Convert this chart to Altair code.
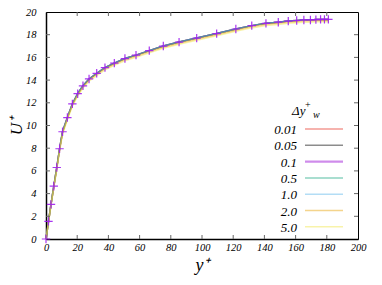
import altair as alt
import pandas as pd

# y+ positions of grid points
yplus = [0, 1.6, 3.2, 5.0, 6.9, 8.7, 10.6, 13.7, 16.9, 20.3, 23.7, 27.6, 32.5, 37.8,
         43.8, 50.6, 57.7, 66.2, 75.2, 85.3, 96.6, 109.4, 121.7, 131.9, 141.0, 148.9,
         155.3, 160.7, 165.3, 169.5, 173.0, 176.0, 178.5, 181.0]
# U+ for dy_w = 0.01 .. 1.0 (curves coincide)
u_base = [0, 1.55, 3.05, 4.65, 6.3, 7.95, 9.45, 10.7, 11.9, 12.8, 13.5, 14.1, 14.6, 15.1,
          15.5, 15.9, 16.2, 16.6, 17.0, 17.35, 17.7, 18.1, 18.5, 18.8, 19.0, 19.1,
          19.2, 19.25, 19.3, 19.3, 19.33, 19.35, 19.35, 19.35]
u_dy2 = [0, 1.5, 3.0, 4.6, 6.2, 7.85, 9.35, 10.6, 11.8, 12.7, 13.4, 14.0, 14.5, 15.0,
         15.4, 15.8, 16.1, 16.5, 16.9, 17.25, 17.6, 18.0, 18.4, 18.7, 18.9, 19.0,
         19.1, 19.15, 19.2, 19.2, 19.23, 19.25, 19.25, 19.25]
u_dy5 = [0, 1.45, 2.95, 4.5, 6.1, 7.75, 9.2, 10.5, 11.7, 12.6, 13.3, 13.9, 14.4, 14.9,
         15.3, 15.7, 16.0, 16.4, 16.8, 17.15, 17.5, 17.9, 18.3, 18.6, 18.8, 18.9,
         19.0, 19.05, 19.1, 19.1, 19.13, 19.15, 19.15, 19.15]

series = ["0.01", "0.05", "0.1", "0.5", "1.0", "2.0", "5.0"]
colors = ["#e51e10", "#000000", "#9400d3", "#009e73", "#56b4e9", "#e69f00", "#f0e442"]
widths = [1.5, 1.5, 2.2, 1.5, 1.5, 1.5, 1.5]
series_u = [u_base, u_base, u_base, u_base, u_base, u_dy2, u_dy5]

x_ticks = [20, 40, 60, 80, 100, 120, 140, 160, 180]
y_ticks = [2, 4, 6, 8, 10, 12, 14, 16, 18]
x_labels = [0, 20, 40, 60, 80, 100, 120, 140, 160, 180, 200]
y_labels = [0, 2, 4, 6, 8, 10, 12, 14, 16, 18, 20]

rows = []
for s, u in zip(series, series_u):
    for yp, up in zip(yplus, u):
        rows.append({"series": s, "y": yp, "u": up})
df = pd.DataFrame(rows)
df_pts = pd.DataFrame({"y": yplus, "u": u_base})

W, H = 312, 227
TOP = 4
FONT = "Liberation Serif"
xs = alt.Scale(domain=[0, 200], nice=False)
ys = alt.Scale(domain=[0, 20], nice=False)

xaxis = alt.Axis(values=x_labels, grid=False, tickSize=0, labelPadding=3,
                 labelFont=FONT, labelFontStyle="italic", labelFontSize=10.5,
                 labelColor="#000", domainColor="#000", domainWidth=1.5,
                 title="y⁺", titleFont=FONT, titleFontStyle="italic",
                 titleFontWeight="normal", titleFontSize=18, titleColor="#000",
                 titlePadding=4, labelFlush=False, labelOverlap=False)
yaxis = alt.Axis(values=y_labels, grid=False, tickSize=0, labelPadding=10,
                 labelFont=FONT, labelFontStyle="italic", labelFontSize=10.5,
                 labelColor="#000", domainColor="#000", domainWidth=1.5,
                 title="U⁺", titleFont=FONT, titleFontStyle="italic",
                 titleFontWeight="normal", titleFontSize=17, titleColor="#000",
                 titlePadding=0, labelFlush=False, labelOverlap=False)

X = lambda f: alt.X(f, scale=xs, axis=xaxis)
Y = lambda f: alt.Y(f, scale=ys, axis=yaxis)

color = alt.Color("series:N", scale=alt.Scale(domain=series, range=colors), legend=None)

lines = alt.Chart(df).mark_line(opacity=0.45, strokeWidth=1.5).encode(
    x=X("y:Q"), y=Y("u:Q"), color=color, detail="series:N", order=alt.Order("y:Q"),
)

pts = alt.Chart(df_pts).mark_point(
    shape="M-1,0H1M0,-1V1", size=70, filled=False, stroke="#a020f0",
    strokeWidth=1.2, opacity=0.9
).encode(x=X("y:Q"), y=Y("u:Q"))

tick_color = "#666"
xt = pd.DataFrame({"t": x_ticks})
yt = pd.DataFrame({"t": y_ticks})
tb = alt.Chart(xt).mark_rule(color=tick_color, strokeWidth=1).encode(
    x=X("t:Q"), y=alt.value(H), y2=alt.value(H - 4))
tt = alt.Chart(xt).mark_rule(color=tick_color, strokeWidth=1).encode(
    x=X("t:Q"), y=alt.value(0), y2=alt.value(4))
tl = alt.Chart(yt).mark_rule(color=tick_color, strokeWidth=1).encode(
    y=Y("t:Q"), x=alt.value(0), x2=alt.value(4))
tr = alt.Chart(yt).mark_rule(color=tick_color, strokeWidth=1).encode(
    y=Y("t:Q"), x=alt.value(W), x2=alt.value(W - 4))

one = pd.DataFrame({"a": [0]})
legend_layers = []
off = -(8 + TOP)  # convert page y to view y
row_y0, row_step = 129 + off, 16.3
for i, (s, c, w) in enumerate(zip(series, colors, widths)):
    yy = row_y0 + i * row_step
    legend_layers.append(
        alt.Chart(one).mark_rule(color=c, opacity=0.45, strokeWidth=w).encode(
            x=alt.value(259), x2=alt.value(297), y=alt.value(yy)))
    legend_layers.append(
        alt.Chart(one).mark_text(align="right", baseline="middle", font=FONT,
                                 fontStyle="italic", fontSize=13, color="#000").encode(
            x=alt.value(251), y=alt.value(yy + 1), text=alt.value(s)))

t_dy = alt.Chart(one).mark_text(align="left", baseline="alphabetic", font=FONT,
                                fontStyle="italic", fontSize=13, color="#000").encode(
    x=alt.value(246), y=alt.value(115 + off), text=alt.value("Δy"))
t_plus = alt.Chart(one).mark_text(align="left", baseline="alphabetic", font=FONT,
                                  fontSize=10, color="#000").encode(
    x=alt.value(259), y=alt.value(108 + off), text=alt.value("+"))
t_w = alt.Chart(one).mark_text(align="left", baseline="alphabetic", font=FONT,
                               fontStyle="italic", fontSize=10, color="#000").encode(
    x=alt.value(267), y=alt.value(118 + off), text=alt.value("w"))

chart = alt.layer(lines, pts, tb, tt, tl, tr, *legend_layers, t_dy, t_plus, t_w).properties(
    width=W, height=H,
    autosize=alt.AutoSizeParams(type="none"),
    padding={"left": 38, "top": TOP, "right": 16, "bottom": 37},
).configure_view(stroke="#000", strokeWidth=1)

chart.save("out.html", embed_options={"renderer": "svg", "actions": False})
